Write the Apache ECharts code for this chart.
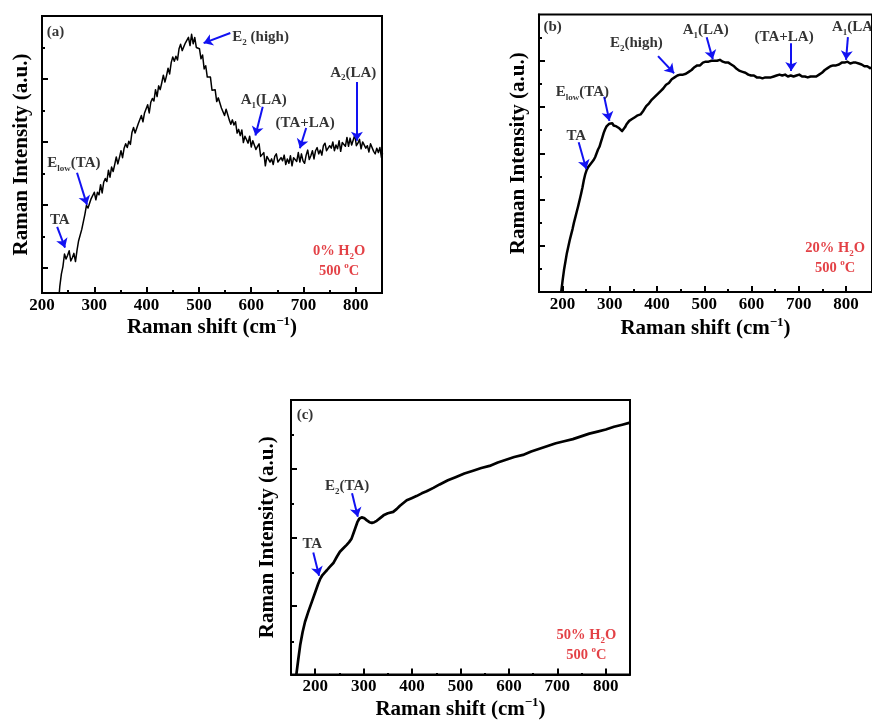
<!DOCTYPE html>
<html>
<head>
<meta charset="utf-8">
<script src="https://cdn.jsdelivr.net/npm/echarts@6/dist/echarts.min.js"></script>
<style>
html,body{margin:0;padding:0;background:#fff}
#chart{width:872px;height:721px}
</style>
</head>
<body>
<div id="chart"></div>
<script>
// Raman spectra of the three samples: [Raman shift (cm-1), intensity (a.u.)]
const ramanA = [
[233,0.60],[234,0.70],[237,0.90],[240,1.02],[243,1.22],[246,1.14],[249,1.20],[252,1.27],[255,1.11],[258,1.16],[261,1.23],[264,1.10],[267,1.28],[270,1.43],[273,1.44],[276,1.61],[279,1.61],[282,1.85],[285,1.99],[288,1.95],[291,1.97],[294,2.10],[297,2.08],[300,2.20],[303,2.08],[306,2.20],[309,2.16],[312,2.32],[315,2.19],[318,2.36],[321,2.42],[324,2.37],[327,2.55],[330,2.44],[333,2.60],[336,2.53],[339,2.64],[342,2.76],[345,2.65],[348,2.75],[351,2.86],[354,2.75],[357,2.90],[360,2.97],[363,2.91],[366,3.01],[369,2.96],[372,3.15],[375,3.23],[378,3.14],[381,3.15],[384,3.29],[387,3.29],[390,3.42],[393,3.32],[396,3.46],[399,3.43],[402,3.59],[405,3.46],[408,3.63],[411,3.69],[414,3.65],[417,3.83],[420,3.72],[423,3.89],[426,3.83],[429,3.94],[432,4.06],[435,3.95],[438,4.05],[441,4.17],[444,4.08],[447,4.26],[450,4.35],[453,4.28],[456,4.36],[459,4.30],[462,4.48],[465,4.55],[468,4.45],[471,4.45],[474,4.57],[477,4.55],[480,4.66],[483,4.53],[486,4.71],[489,4.56],[492,4.66],[495,4.50],[498,4.53],[501,4.48],[504,4.32],[507,4.38],[510,4.16],[513,4.21],[516,4.03],[519,4.03],[522,4.03],[525,3.82],[528,3.82],[531,3.83],[534,3.64],[537,3.70],[540,3.69],[543,3.54],[546,3.55],[549,3.42],[552,3.52],[555,3.52],[558,3.35],[561,3.28],[564,3.35],[567,3.27],[570,3.32],[573,3.14],[576,3.20],[579,3.10],[582,3.19],[585,2.99],[588,3.09],[591,3.09],[594,2.98],[597,3.09],[600,2.92],[603,3.02],[606,3.02],[609,2.88],[612,2.93],[615,2.97],[618,2.77],[621,2.78],[624,2.83],[627,2.62],[630,2.77],[633,2.80],[636,2.68],[639,2.73],[642,2.64],[645,2.77],[648,2.81],[651,2.68],[654,2.65],[657,2.75],[660,2.70],[663,2.79],[666,2.64],[669,2.73],[672,2.66],[675,2.78],[678,2.62],[681,2.75],[684,2.78],[687,2.69],[690,2.83],[693,2.68],[696,2.81],[699,2.70],[702,2.66],[705,2.79],[708,2.87],[711,2.72],[714,2.78],[717,2.86],[720,2.73],[723,2.86],[726,2.91],[729,2.81],[732,2.87],[735,2.79],[738,2.94],[741,2.98],[744,2.86],[747,2.84],[750,2.94],[753,2.90],[756,3.00],[759,2.86],[762,2.95],[765,2.89],[768,3.02],[771,2.85],[774,2.99],[777,3.02],[780,2.93],[783,3.07],[786,2.93],[789,3.06],[792,2.95],[795,3.03],[798,3.11],[801,2.94],[804,2.98],[807,3.04],[810,2.89],[813,3.00],[816,3.02],[819,2.90],[822,2.94],[825,2.84],[828,2.97],[831,3.00],[834,2.85],[837,2.81],[840,2.90],[843,2.83],[846,2.91],[849,2.75],[851,2.82]
];
const ramanB = [
[197,0.00],[200,0.25],[203,0.48],[206,0.66],[209,0.84],[212,0.98],[215,1.12],[218,1.24],[221,1.36],[224,1.50],[227,1.62],[230,1.74],[233,1.86],[236,1.99],[239,2.12],[242,2.26],[245,2.42],[248,2.55],[251,2.64],[254,2.70],[257,2.74],[260,2.78],[263,2.82],[266,2.86],[269,2.92],[272,3.00],[275,3.08],[278,3.14],[281,3.24],[284,3.34],[287,3.44],[290,3.52],[293,3.58],[296,3.62],[299,3.64],[302,3.62],[305,3.65],[308,3.60],[311,3.63],[314,3.58],[317,3.60],[320,3.54],[323,3.52],[326,3.48],[329,3.50],[332,3.56],[335,3.62],[338,3.64],[341,3.70],[344,3.72],[347,3.74],[350,3.76],[353,3.78],[356,3.76],[359,3.82],[362,3.80],[365,3.84],[368,3.86],[371,3.92],[374,3.96],[377,4.02],[380,4.04],[383,4.08],[386,4.12],[389,4.16],[392,4.18],[395,4.22],[398,4.26],[401,4.28],[404,4.30],[407,4.34],[410,4.38],[413,4.40],[416,4.44],[419,4.48],[422,4.50],[425,4.52],[428,4.56],[431,4.60],[434,4.62],[437,4.64],[440,4.66],[443,4.68],[446,4.66],[449,4.70],[452,4.68],[455,4.70],[458,4.68],[461,4.72],[464,4.74],[467,4.76],[470,4.78],[473,4.80],[476,4.84],[479,4.86],[482,4.88],[485,4.90],[488,4.92],[491,4.90],[494,4.94],[497,4.96],[500,4.94],[503,4.98],[506,5.00],[509,4.98],[512,5.02],[515,5.00],[518,5.02],[521,5.00],[524,4.98],[527,5.00],[530,4.98],[533,5.02],[536,5.00],[539,4.98],[542,4.98],[545,4.96],[548,4.94],[551,4.96],[554,4.92],[557,4.92],[560,4.88],[563,4.88],[566,4.86],[569,4.82],[572,4.82],[575,4.78],[578,4.78],[581,4.76],[584,4.74],[587,4.74],[590,4.72],[593,4.70],[596,4.68],[599,4.68],[602,4.66],[605,4.68],[608,4.66],[611,4.64],[614,4.66],[617,4.64],[620,4.66],[623,4.62],[626,4.66],[629,4.64],[632,4.68],[635,4.64],[638,4.66],[641,4.64],[644,4.68],[647,4.66],[650,4.64],[653,4.68],[656,4.66],[659,4.70],[662,4.66],[665,4.68],[668,4.66],[671,4.70],[674,4.68],[677,4.66],[680,4.70],[683,4.68],[686,4.70],[689,4.66],[692,4.70],[695,4.68],[698,4.66],[701,4.70],[704,4.68],[707,4.66],[710,4.70],[713,4.66],[716,4.68],[719,4.64],[722,4.68],[725,4.66],[728,4.64],[731,4.66],[734,4.64],[737,4.66],[740,4.68],[743,4.70],[746,4.72],[749,4.74],[752,4.76],[755,4.80],[758,4.82],[761,4.84],[764,4.86],[767,4.88],[770,4.88],[773,4.90],[776,4.92],[779,4.90],[782,4.94],[785,4.92],[788,4.94],[791,4.96],[794,4.92],[797,4.96],[800,4.94],[803,4.98],[806,4.96],[809,4.94],[812,4.98],[815,4.96],[818,4.94],[821,4.96],[824,4.98],[827,4.94],[830,4.96],[833,4.92],[836,4.90],[839,4.88],[842,4.86],[845,4.88],[848,4.86],[851,4.84],[855,4.85]
];
const ramanC = [
[161,0.00],[165,0.22],[169,0.43],[174,0.62],[179,0.77],[186,0.92],[193,1.06],[200,1.20],[206,1.32],[210,1.39],[215,1.45],[220,1.49],[224,1.52],[230,1.57],[238,1.63],[245,1.72],[251,1.79],[258,1.84],[265,1.89],[270,1.93],[275,1.98],[279,2.06],[283,2.14],[287,2.22],[291,2.27],[296,2.29],[301,2.28],[306,2.25],[312,2.22],[317,2.21],[322,2.22],[327,2.24],[334,2.28],[341,2.32],[350,2.35],[361,2.37],[368,2.41],[375,2.46],[382,2.50],[389,2.54],[399,2.57],[409,2.60],[420,2.64],[430,2.67],[444,2.72],[457,2.77],[474,2.83],[491,2.88],[508,2.93],[526,2.97],[543,3.01],[560,3.04],[577,3.09],[594,3.13],[611,3.17],[629,3.20],[646,3.25],[663,3.29],[680,3.33],[697,3.37],[714,3.40],[732,3.43],[749,3.47],[766,3.51],[783,3.54],[800,3.57],[817,3.61],[834,3.64],[850,3.67]
];

// Axis ticks
const xMajorTicks = [200,300,400,500,600,700,800];
const xMinorTicks = [250,350,450,550,650,750];
const yMajorA = [1,2,3,4];
const yMinorA = [1.5,2.5,3.5,4.5];
const yMajorB = [1,2,3,4,5];
const yMinorB = [0.5,1.5,2.5,3.5,4.5,5.5];
const yMajorC = [1,2,3];
const yMinorC = [0.5,1.5,2.5,3.5];

// Peak assignments: [shift, intensity, rich text]
const labelsA = [
  [226, 4.75, '{p|(a)}'],
  [618, 4.67, '{t|E}{sb|2}{t| (high)}'],
  [795, 4.10, '{t|A}{sb|2}{t|(LA)}'],
  [624, 3.67, '{t|A}{sb|1}{t|(LA)}'],
  [703, 3.30, '{t|(TA+LA)}'],
  [261, 2.67, '{t|E}{sb|low}{t|(TA)}'],
  [234, 1.76, '{t|TA}'],
  [768, 1.10, '{r|0% H}{rb|2}{r|O}\n{r|500 }{rp|o}{r|C}']
];
const arrowsA = [
  [[560, 4.73], [509, 4.57]],
  [[802, 3.95], [802, 3.02]],
  [[622, 3.56], [608, 3.10]],
  [[705, 3.22], [693, 2.90]],
  [[267, 2.51], [286, 2.00]],
  [[229, 1.65], [244, 1.32]]
];
const labelsB = [
  [179, 5.73, '{p|(b)}'],
  [356, 5.38, '{t|E}{sb|2}{t|(high)}'],
  [503, 5.66, '{t|A}{sb|1}{t|(LA)}'],
  [669, 5.52, '{t|(TA+LA)}'],
  [819, 5.73, '{t|A}{sb|1}{t|(LA)}'],
  [242, 4.32, '{t|E}{sb|low}{t|(TA)}'],
  [229, 3.37, '{t|TA}'],
  [777, 0.74, '{r|20% H}{rb|2}{r|O}\n{r|500 }{rp|o}{r|C}']
];
const arrowsB = [
  [[402, 5.10], [436, 4.73]],
  [[505, 5.51], [518, 5.03]],
  [[684, 5.38], [684, 4.78]],
  [[804, 5.51], [800, 5.02]],
  [[288, 4.22], [299, 3.70]],
  [[234, 3.24], [250, 2.66]]
];
const labelsC = [
  [179, 3.78, '{p|(c)}'],
  [266, 2.74, '{t|E}{sb|2}{t|(TA)}'],
  [194, 1.90, '{t|TA}'],
  [760, 0.43, '{r|50% H}{rb|2}{r|O}\n{r|500 }{rp|o}{r|C}']
];
const arrowsC = [
  [[276, 2.64], [288, 2.30]],
  [[196, 1.78], [208, 1.44]]
];

const FONT = '"Liberation Serif","Times New Roman",serif';
const RED = '#dc1218';
const BLUE = '#1212f2';

function tok(size, color, extra) {
  return Object.assign({fontFamily: FONT, fontWeight: 'bold', fontSize: size, color: color}, extra || {});
}
const annoRich = {
  p: tok(15, '#000', {lineHeight: 20}),
  t: tok(15, '#000', {lineHeight: 20}),
  sb: tok(9, '#000', {lineHeight: 10, verticalAlign: 'bottom'}),
  r: tok(14.5, RED, {lineHeight: 20}),
  rb: tok(9, RED, {lineHeight: 10, verticalAlign: 'bottom'}),
  rp: tok(9, RED, {lineHeight: 10, verticalAlign: 'top'})
};
const nameRich = {
  t: tok(21, '#000', {lineHeight: 26}),
  sp: tok(13, '#000', {lineHeight: 14, verticalAlign: 'top'})
};
const X_NAME = '{t|Raman shift (cm}{sp|\u22121}{t|)}';
const Y_NAME = '{t|Raman Intensity (a.u.)}';

const panels = [
  {rect: {left: 42, top: 16, width: 340, height: 277}, x: [200, 850], y: [0.6, 5.0],
   yMajor: yMajorA, yMinor: yMinorA, data: ramanA, lw: 1.5, labels: labelsA, arrows: arrowsA,
   xMargin: 4, xGap: 20, yGap: 7},
  {rect: {left: 539, top: 14.5, width: 335, height: 277.5}, x: [150, 855], y: [0, 6],
   yMajor: yMajorB, yMinor: yMinorB, data: ramanB, lw: 2.5, labels: labelsB, arrows: arrowsB,
   xMargin: 4, xGap: 24, yGap: 7},
  {rect: {left: 291, top: 400, width: 339, height: 276}, x: [150, 850], y: [0, 4],
   yMajor: yMajorC, yMinor: yMinorC, data: ramanC, lw: 2.7, labels: labelsC, arrows: arrowsC,
   xMargin: 4, xGap: 14, yGap: 10}
];

const grid = [], xAxis = [], yAxis = [], series = [];
const n = panels.length;

panels.forEach(function (p, i) {
  grid.push(Object.assign({show: true, borderColor: '#000', borderWidth: 2, backgroundColor: 'transparent'}, p.rect));
  xAxis.push({
    type: 'value', gridIndex: i, min: p.x[0], max: p.x[1],
    axisLine: {show: true, onZero: false, lineStyle: {color: '#000', width: 2}},
    axisTick: {show: true, inside: true, length: 6, lineStyle: {color: '#000', width: 2}, customValues: xMajorTicks},
    axisLabel: {show: true, customValues: xMajorTicks, margin: p.xMargin, color: '#000',
                fontFamily: FONT, fontWeight: 'bold', fontSize: 17},
    splitLine: {show: false},
    name: X_NAME, nameLocation: 'middle', nameGap: p.xGap,
    nameTextStyle: {rich: nameRich}
  });
  yAxis.push({
    type: 'value', gridIndex: i, min: p.y[0], max: p.y[1],
    axisLine: {show: true, onZero: false, lineStyle: {color: '#000', width: 2}},
    axisTick: {show: true, inside: true, length: 6, lineStyle: {color: '#000', width: 2}, customValues: p.yMajor},
    axisLabel: {show: false},
    splitLine: {show: false},
    name: Y_NAME, nameLocation: 'middle', nameGap: p.yGap, nameRotate: 90,
    nameTextStyle: {rich: nameRich}
  });
  series.push({
    type: 'line', xAxisIndex: i, yAxisIndex: i, data: p.data,
    showSymbol: false, symbol: 'none', smooth: false, clip: true, silent: true,
    lineStyle: {color: '#000', width: p.lw, join: 'round'},
    z: 3
  });
  series.push({
    type: 'scatter', xAxisIndex: i, yAxisIndex: i, symbolSize: 0, silent: true, z: 5,
    data: p.labels.map(function (l) {
      return {value: [l[0], l[1]], label: {formatter: l[2]}};
    }),
    label: {show: true, position: 'inside', align: 'center', verticalAlign: 'middle', rich: annoRich},
    markLine: {
      silent: true, animation: false, symbol: ['none', 'arrow'], symbolSize: 9,
      lineStyle: {color: BLUE, width: 2, type: 'solid'},
      label: {show: false},
      emphasis: {disabled: true},
      data: p.arrows.map(function (a) {
        return [{coord: a[0]}, {coord: a[1]}];
      })
    }
  });
});

// Shorter minor ticks, drawn on an overlay grid of the same size
panels.forEach(function (p, i) {
  const gi = n + i;
  grid.push(Object.assign({show: false}, p.rect));
  xAxis.push({
    type: 'value', gridIndex: gi, min: p.x[0], max: p.x[1],
    axisLine: {show: false, onZero: false},
    axisTick: {show: true, inside: true, length: 3, lineStyle: {color: '#000', width: 2}, customValues: xMinorTicks},
    axisLabel: {show: false}, splitLine: {show: false}
  });
  yAxis.push({
    type: 'value', gridIndex: gi, min: p.y[0], max: p.y[1],
    axisLine: {show: false, onZero: false},
    axisTick: {show: true, inside: true, length: 3, lineStyle: {color: '#000', width: 2}, customValues: p.yMinor},
    axisLabel: {show: false}, splitLine: {show: false}
  });
});

const chart = echarts.init(document.getElementById('chart'), null, {renderer: 'canvas'});
chart.setOption({
  animation: false,
  backgroundColor: '#fff',
  grid: grid, xAxis: xAxis, yAxis: yAxis, series: series
});
</script>
</body>
</html>
